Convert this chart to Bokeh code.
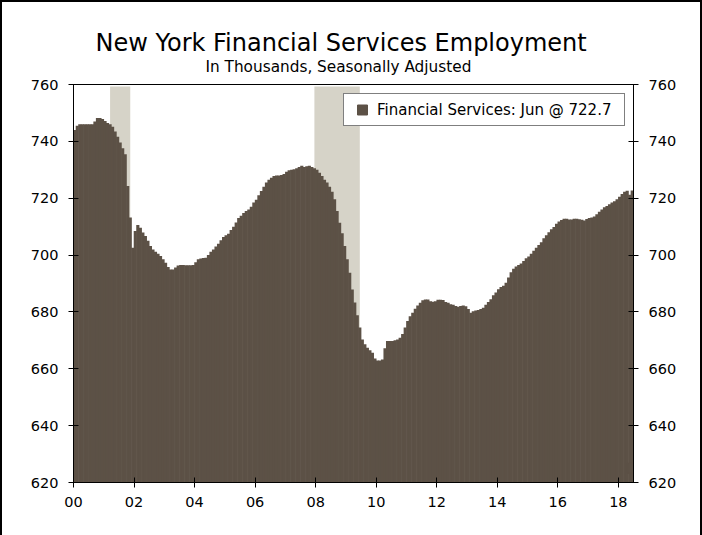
from bokeh.plotting import figure
from bokeh.models import (ColumnDataSource, FixedTicker, LinearAxis, Range1d,
                          Title, Legend, LegendItem)
from bokeh.embed import file_html
from bokeh.resources import INLINE

# ---------------- data ----------------
start_year = 2000
employment = [
    # 2000
    744.0, 745.5, 746.0, 746.0, 746.0, 746.0, 746.0, 746.0, 747.0, 748.2, 748.2, 747.9,
    # 2001
    747.2, 746.5, 746.0, 745.1, 743.5, 741.6, 739.6, 737.6, 735.5, 724.3, 713.2, 702.6,
    # 2002
    708.5, 710.6, 709.6, 707.9, 706.7, 705.0, 703.2, 702.0, 701.2, 700.5, 699.7, 698.5,
    # 2003
    697.3, 695.8, 694.9, 694.9, 695.6, 696.3, 696.5, 696.5, 696.4, 696.4, 696.4, 696.5,
    # 2004
    697.5, 698.5, 698.8, 699.0, 699.1, 700.0, 701.2, 702.0, 703.0, 704.0, 705.2, 706.4,
    # 2005
    707.0, 707.5, 708.8, 710.0, 711.5, 713.0, 713.8, 714.8, 715.5, 716.0, 717.0, 718.5,
    # 2006
    719.5, 721.0, 722.5, 724.0, 725.5, 726.5, 727.2, 727.8, 728.0, 728.0, 728.2, 728.5,
    # 2007
    729.3, 729.8, 730.0, 730.2, 730.5, 731.0, 731.4, 731.0, 731.2, 731.4, 731.0, 730.5,
    # 2008
    730.0, 729.0, 727.8, 726.5, 725.5, 724.0, 722.3, 719.6, 715.5, 711.4, 707.7, 703.2,
    # 2009
    698.5, 693.8, 687.9, 683.3, 678.8, 674.5, 670.3, 668.6, 667.4, 666.5, 665.6, 663.6,
    # 2010
    662.9, 662.9, 663.3, 667.2, 669.8, 669.8, 669.8, 670.0, 670.3, 670.9, 672.2, 674.5,
    # 2011
    676.8, 678.5, 679.7, 681.1, 682.3, 683.2, 684.1, 684.4, 684.4, 683.8, 683.6, 683.8,
    # 2012
    684.3, 684.3, 684.2, 683.5, 683.2, 682.7, 682.5, 682.1, 681.8, 682.1, 682.3, 682.0,
    # 2013
    681.0, 679.7, 680.2, 680.5, 680.7, 681.0, 681.5, 682.5, 683.5, 684.5, 685.9, 686.8,
    # 2014
    688.0, 688.8, 689.2, 690.3, 692.1, 694.0, 695.2, 696.0, 696.5, 697.0, 697.9, 698.9,
    # 2015
    699.5, 700.5, 701.5, 702.6, 703.5, 704.5, 705.9, 707.0, 708.0, 709.1, 709.9, 711.0,
    # 2016
    711.8, 712.3, 712.8, 712.8, 712.5, 712.5, 712.8, 712.8, 712.6, 712.4, 712.2, 712.7,
    # 2017
    713.0, 713.2, 713.6, 714.4, 715.2, 716.0, 716.8, 717.3, 717.9, 718.5, 718.9, 719.6,
    # 2018
    720.5, 721.5, 722.3, 722.6, 721.2, 722.7,
]
last_month_name = "Jun"
tick_years = [2000, 2002, 2004, 2006, 2008, 2010, 2012, 2014, 2016, 2018]
tick_labels = ["00", "02", "04", "06", "08", "10", "12", "14", "16", "18"]
y_ticks = [620, 640, 660, 680, 700, 720, 740, 760]
recession_start = [(2001, 3), (2007, 12)]
recession_end = [(2001, 11), (2009, 6)]

# ---------------- styles ----------------
BAR = "#5C5146"
SHADE = "#D6D3C8"
FONT = "DejaVu Sans"


def month_index(ym):
    return (ym[0] - start_year) * 12 + (ym[1] - 1)


n = len(employment)
baseline = y_ticks[0]
bar_src = ColumnDataSource(dict(x=[i + 0.5 for i in range(n)], top=employment))
rec_src = ColumnDataSource(dict(
    left=[month_index(s) + 0.5 for s in recession_start],
    right=[month_index(e) + 0.5 for e in recession_end],
))
# legend swatch sits hidden inside the last bar, at its base
key_src = ColumnDataSource(dict(x=[n - 0.5], y=[baseline + 5]))

p = figure(width=698, height=533, x_range=Range1d(0, n), y_range=Range1d(baseline, y_ticks[-1]),
           output_backend="svg", toolbar_location=None,
           min_border_left=71, min_border_right=67, min_border_top=82, min_border_bottom=53)
p.styles = {"margin-left": "2px", "margin-top": "2px", "outline": "2px solid black"}

p.xgrid.visible = False
p.ygrid.visible = False
p.outline_line_color = "black"
p.outline_line_width = 1
p.background_fill_color = "white"
p.border_fill_color = "white"

p.quad(left="left", right="right", bottom=baseline, top=759.3, source=rec_src,
       fill_color=SHADE, line_color=None)
bars = p.vbar(x="x", top="top", bottom=baseline, width=1.25, source=bar_src,
              fill_color=BAR, line_color=None)
key = p.scatter(x="x", y="y", source=key_src, marker="square", size=10,
                fill_color=BAR, line_color=BAR)

# axes
p.add_layout(LinearAxis(), "right")
for ax in p.yaxis:
    ax.ticker = FixedTicker(ticks=y_ticks)
    ax.major_label_standoff = 10
for ax in p.xaxis:
    ax.ticker = FixedTicker(ticks=[(y - start_year) * 12 for y in tick_years])
    ax.major_label_overrides = {(y - start_year) * 12: lab for y, lab in zip(tick_years, tick_labels)}
    ax.major_label_standoff = 9
for ax in list(p.xaxis) + list(p.yaxis):
    ax.axis_line_color = "black"
    ax.axis_line_width = 1
    ax.major_tick_line_color = "black"
    ax.major_tick_in = 5
    ax.major_tick_out = 5
    ax.minor_tick_line_color = None
    ax.major_label_text_font = FONT
    ax.major_label_text_font_size = "14.5px"
    ax.major_label_text_color = "black"

# titles
p.add_layout(Title(text="In Thousands, Seasonally Adjusted", align="left", offset=132,
                   text_font=FONT, text_font_size="15.3px", text_font_style="normal",
                   text_color="black", standoff=17), "above")
p.add_layout(Title(text="New York Financial Services Employment", align="left", offset=22,
                   text_font=FONT, text_font_size="24px", text_font_style="normal",
                   text_color="black", standoff=-19), "above")

legend = Legend(items=[LegendItem(label=f"Financial Services: {last_month_name} @ {employment[-1]}",
                                  renderers=[key])],
                location=(270, 356), padding=3, margin=0, spacing=0,
                glyph_width=30, glyph_height=25, label_height=25, label_width=244,
                label_standoff=0, border_line_color="black", border_line_width=1,
                background_fill_color="white", background_fill_alpha=1.0,
                label_text_font=FONT, label_text_font_size="15px", label_text_color="black")
p.add_layout(legend)

open("out.html", "w").write(file_html(p, INLINE))
